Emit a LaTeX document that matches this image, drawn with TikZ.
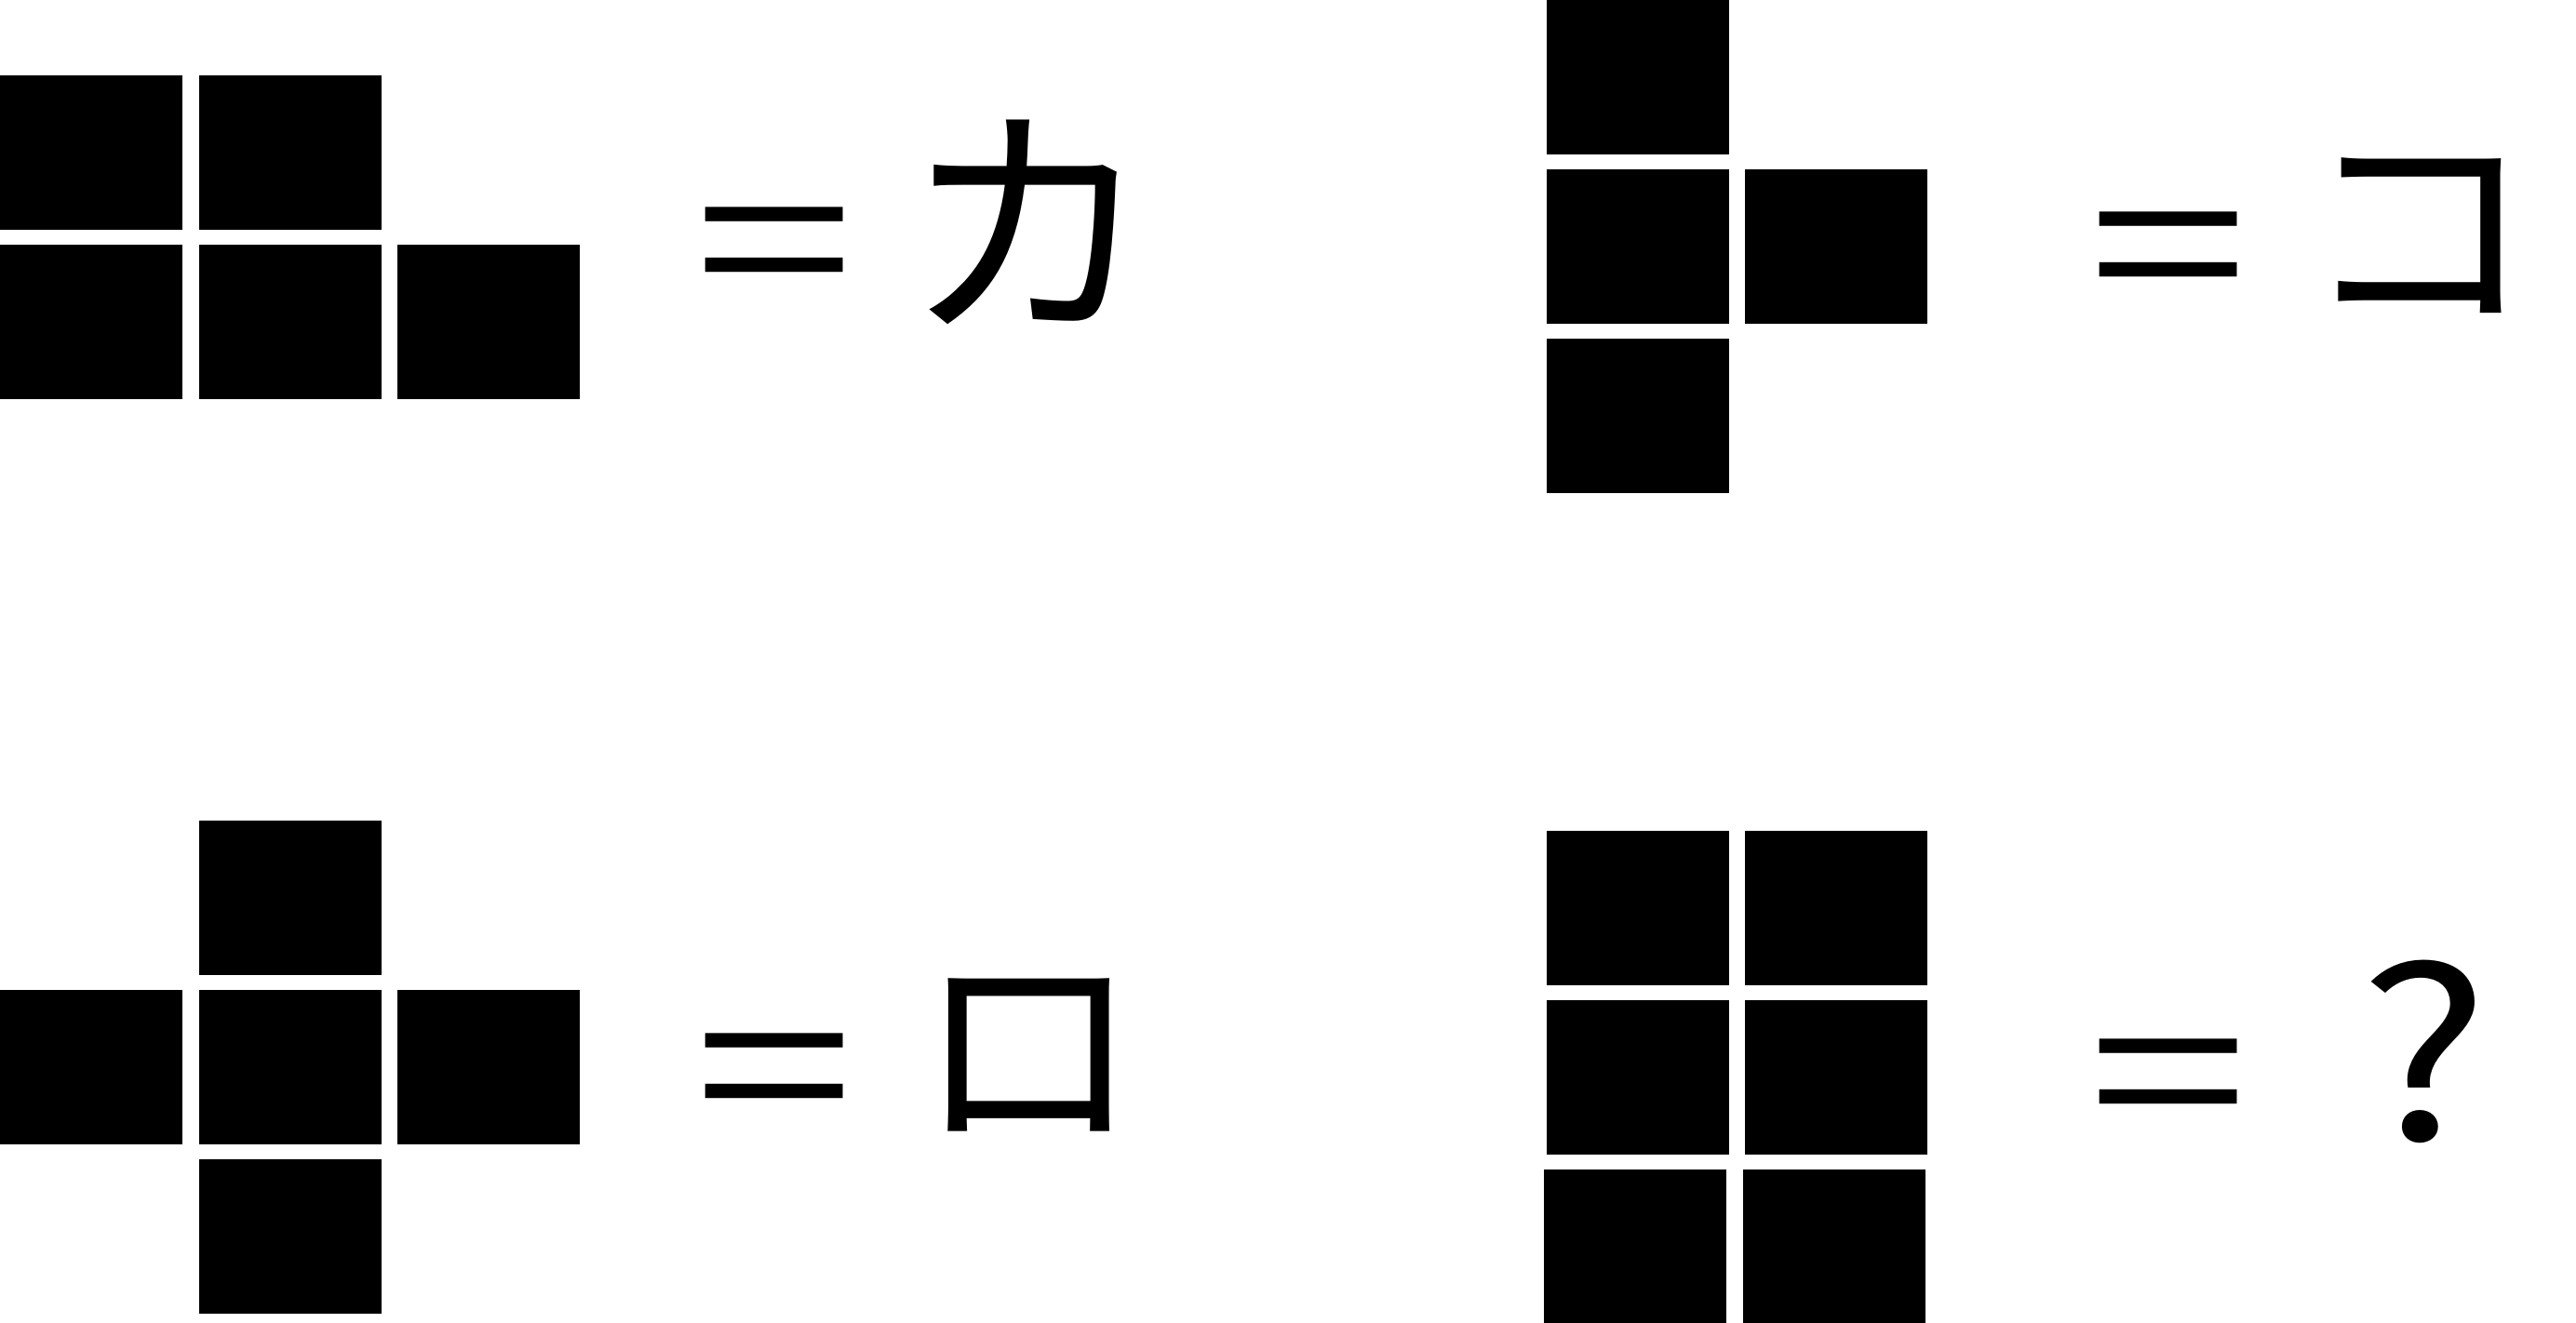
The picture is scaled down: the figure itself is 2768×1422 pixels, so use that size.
\documentclass[tikz,border=0pt]{standalone}
\usepackage{graphicx}
\usepackage{fontspec}
\newfontfamily\jpfont{Noto Sans CJK JP}
\tikzset{
  glyph/.style={anchor=base, inner sep=0pt, font=\jpfont\fontsize{76.8}{80}\selectfont},
  tile/.style={fill=black},
}
% wide thin equals sign
\newcommand{\eqsign}{\scalebox{1.14}[0.84]{=}}
\begin{document}
\begin{tikzpicture}[x=0.01cm, y=-0.01cm]
  \useasboundingbox (0,0) rectangle (2768,1422);
  \clip (0,0) rectangle (2768,1422);
  % TOP LEFT FIGURE
  \foreach \c/\r in {0/0,1/0,0/1,1/1,2/1}
    \fill[tile] ({\c*213.6},{81+\r*182}) rectangle ++(196,166);
  \node[glyph] (eqA) at (832,342) {\eqsign};
  \node[glyph] (charA) at (1105,342) {カ};

  % TOP RIGHT FIGURE
  \foreach \c/\r in {0/0,0/1,1/1,0/2}
    \fill[tile] ({1661.5+\c*213.6},{\r*182}) rectangle ++(196,166);
  \node[glyph] (eqB) at (2330,347) {\eqsign};
  \node[glyph] (charB) at (2599,335) {\scalebox{0.94}[0.89]{コ}};

  % BOTTOM LEFT FIGURE
  \foreach \c/\r in {1/0,0/1,1/1,2/1,1/2}
    \fill[tile] ({\c*213.6},{882.5+\r*181.8}) rectangle ++(196,166);
  \node[glyph] (eqC) at (832,1230) {\eqsign};
  \node[glyph] (charC) at (1105,1215) {\scalebox{0.9}[0.88]{ロ}};

  % BOTTOM RIGHT FIGURE
  \foreach \c/\r in {0/0,1/0,0/1,1/1}
    \fill[tile] ({1661.5+\c*213.6},{893+\r*182}) rectangle ++(196,166);
  % last row sits a little to the left
  \foreach \c in {0,1}
    \fill[tile] ({1659+\c*213.6},1257) rectangle ++(196,170);
  \node[glyph] (eqD) at (2330,1235) {\eqsign};
  \node[glyph] (charD) at (2605,1226) {\scalebox{1.09}[0.94]{?}};
\end{tikzpicture}
\end{document}
